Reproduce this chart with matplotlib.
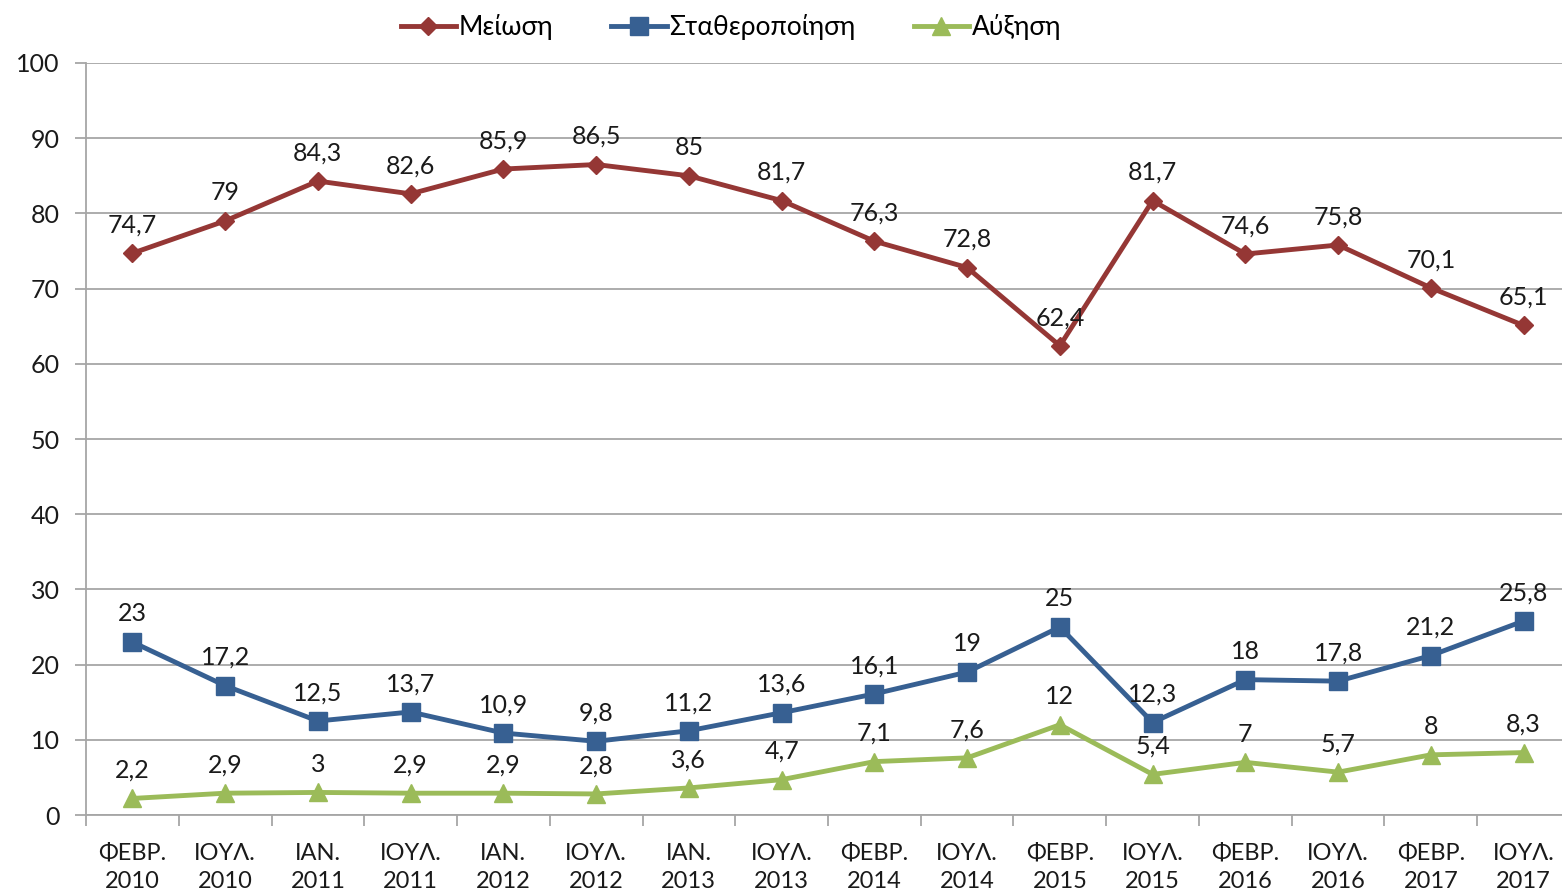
import matplotlib
matplotlib.use("Agg")
import matplotlib.pyplot as plt
from matplotlib.ticker import FixedLocator, NullFormatter

categories = ["ΦΕΒΡ.\n2010", "ΙΟΥΛ.\n2010", "ΙΑΝ.\n2011", "ΙΟΥΛ.\n2011", "ΙΑΝ.\n2012",
              "ΙΟΥΛ.\n2012", "ΙΑΝ.\n2013", "ΙΟΥΛ.\n2013", "ΦΕΒΡ.\n2014", "ΙΟΥΛ.\n2014",
              "ΦΕΒΡ.\n2015", "ΙΟΥΛ.\n2015", "ΦΕΒΡ.\n2016", "ΙΟΥΛ.\n2016", "ΦΕΒΡ.\n2017",
              "ΙΟΥΛ.\n2017"]
meiosi = [74.7, 79, 84.3, 82.6, 85.9, 86.5, 85, 81.7, 76.3, 72.8, 62.4, 81.7, 74.6, 75.8, 70.1, 65.1]
statheropoiisi = [23, 17.2, 12.5, 13.7, 10.9, 9.8, 11.2, 13.6, 16.1, 19, 25, 12.3, 18, 17.8, 21.2, 25.8]
afxisi = [2.2, 2.9, 3, 2.9, 2.9, 2.8, 3.6, 4.7, 7.1, 7.6, 12, 5.4, 7, 5.7, 8, 8.3]
series_names = ["Μείωση", "Σταθεροποίηση", "Αύξηση"]
yticks = [0, 10, 20, 30, 40, 50, 60, 70, 80, 90, 100]

plt.rcParams['font.family'] = ['Lato', 'DejaVu Sans']

fig = plt.figure(figsize=(15.62, 8.96), dpi=100)
ax = fig.add_axes([86/1562, 1-815/896, (1570-86)/1562, (815-63)/896])

x = list(range(len(categories)))
colors = ["#953735", "#376092", "#9BBB59"]
markers = ["D", "s", "^"]
msizes = [9, 13, 13]
data = [meiosi, statheropoiisi, afxisi]

def fmt(v):
    return ("%g" % v).replace(".", ",")

for vals, c, m, ms, name in zip(data, colors, markers, msizes, series_names):
    ax.plot(x, vals, color=c, lw=3.5, marker=m, markersize=ms, markeredgecolor=c,
            label=name, zorder=3, clip_on=False)
    for xi, v in zip(x, vals):
        ax.annotate(fmt(v), (xi, v), xytext=(0, 12), textcoords="offset points",
                    ha="center", va="bottom", fontsize=18, color="#1a1a1a", zorder=4,
                    annotation_clip=False)

ax.set_xlim(-0.5, len(categories) - 0.5)
ax.set_ylim(0, 100)
ax.set_yticks(yticks)
ax.set_yticklabels([str(t) for t in yticks], fontsize=18, color="#1a1a1a")
ax.yaxis.grid(True, color="#a6a6a6", lw=1.3)
ax.set_axisbelow(True)

ax.xaxis.set_major_locator(FixedLocator([i - 0.5 for i in range(len(categories) + 1)]))
ax.xaxis.set_major_formatter(NullFormatter())
ax.xaxis.set_minor_locator(FixedLocator(x))
ax.set_xticklabels(categories, minor=True, fontsize=17, color="#1a1a1a", linespacing=1.45)
ax.tick_params(axis="x", which="minor", length=0, pad=20)
ax.tick_params(axis="x", which="major", length=8, width=1.3, color="#a6a6a6")
ax.tick_params(axis="y", length=8, width=1.3, color="#a6a6a6", pad=11)

for s in ["top", "right"]:
    ax.spines[s].set_visible(False)
for s in ["left", "bottom"]:
    ax.spines[s].set_color("#a6a6a6")
    ax.spines[s].set_linewidth(1.3)

leg = fig.legend(loc="center", bbox_to_anchor=(0.468, 1 - 27/896), ncol=3, frameon=False,
                 fontsize=19, handlelength=2.1, handletextpad=0.1, columnspacing=2.2)

fig.savefig("out.png", dpi=100)
